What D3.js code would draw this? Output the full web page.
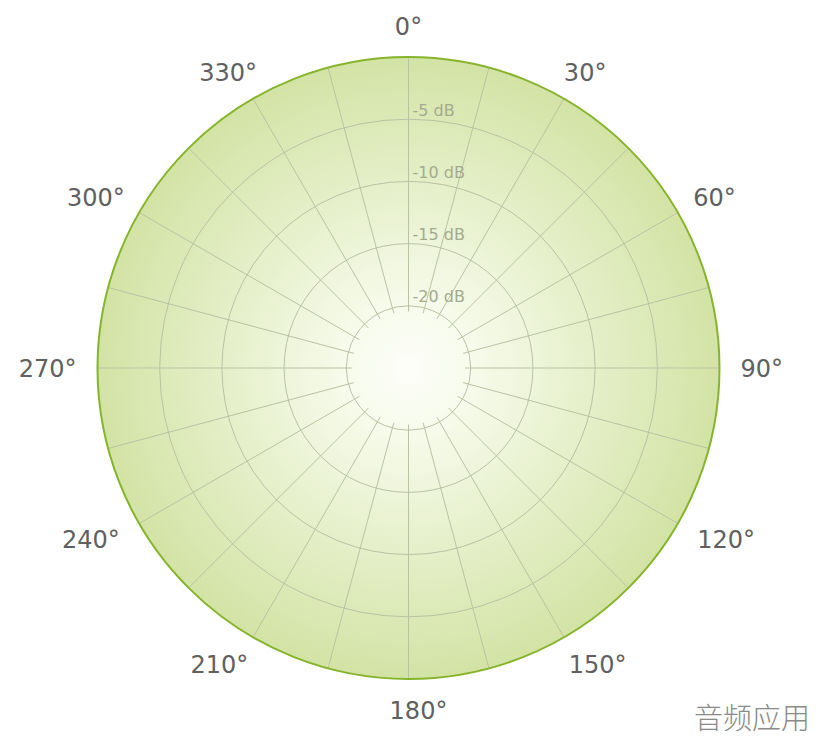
<!DOCTYPE html>
<html>
<head>
<meta charset="utf-8">
<script src="https://cdn.jsdelivr.net/npm/d3@7/dist/d3.min.js"></script>
<style>
  html, body { margin: 0; padding: 0; background: #ffffff; }
  svg { display: block; }
</style>
</head>
<body>
<svg id="chart" width="816" height="738"></svg>
<script>
// ---- data ----
const angleTicks = [0, 30, 60, 90, 120, 150, 180, 210, 240, 270, 300, 330];
const angleLabels = ["0°", "30°", "60°", "90°", "120°", "150°", "180°", "210°", "240°", "270°", "300°", "330°"];
const spokeAngles = [0, 15, 30, 45, 60, 75, 90, 105, 120, 135, 150, 165,
                     180, 195, 210, 225, 240, 255, 270, 285, 300, 315, 330, 345];
const ringValues = [-20, -15, -10, -5];
const ringLabels = ["-20 dB", "-15 dB", "-10 dB", "-5 dB"];
const dbMin = -25, dbMax = 0;
const watermark = "音频应用";

// ---- layout ----
const svg = d3.select("#chart");
const cx = 408.5, cy = 368, R = 311;
const rScale = d3.scaleLinear().domain([dbMin, dbMax]).range([0, R]);
const aScale = d3.scaleLinear().domain([0, 360]).range([0, 2 * Math.PI]);
const spokeStart = rScale(-20.45);

const g = svg.append("g").attr("transform", `translate(${cx},${cy})`);

const defs = svg.append("defs");
const grad = defs.append("radialGradient").attr("id", "bg")
  .attr("cx", "50%").attr("cy", "50%").attr("r", "50%");
grad.append("stop").attr("offset", "0%").attr("stop-color", "#fdfef9");
grad.append("stop").attr("offset", "20%").attr("stop-color", "#f7fbec");
grad.append("stop").attr("offset", "100%").attr("stop-color", "#d3e3a5");

// background disc
g.append("circle").attr("r", rScale(dbMax)).attr("fill", "url(#bg)");

// rings
g.selectAll("circle.ring").data(ringValues).join("circle")
  .attr("class", "ring")
  .attr("r", d => rScale(d))
  .attr("fill", "none")
  .attr("stroke", "#b9c3a4")
  .attr("stroke-width", 1);

// spokes
const pt = (ang, rad) => [rad * Math.sin(aScale(ang)), -rad * Math.cos(aScale(ang))];
g.selectAll("line.spoke").data(spokeAngles).join("line")
  .attr("class", "spoke")
  .attr("x1", d => pt(d, spokeStart)[0]).attr("y1", d => pt(d, spokeStart)[1])
  .attr("x2", d => pt(d, R)[0]).attr("y2", d => pt(d, R)[1])
  .attr("stroke", "#b9c3a4")
  .attr("stroke-width", 1);

// outer circle
g.append("circle").attr("r", rScale(dbMax))
  .attr("fill", "none").attr("stroke", "#86b42c").attr("stroke-width", 2);

// ring labels
g.selectAll("text.rl").data(ringValues).join("text")
  .attr("class", "rl")
  .attr("x", 4)
  .attr("y", d => -rScale(d) - 3.5)
  .attr("font-family", "DejaVu Sans, Verdana, sans-serif")
  .attr("font-size", 16)
  .attr("fill", "#a3ab8f")
  .text((d, i) => ringLabels[i]);

// angle labels
const fs = 24, capHalf = 0.729 * fs / 2, labR = 332, halfH = 10;
const labels = g.selectAll("text.al").data(angleTicks).join("text")
  .attr("class", "al")
  .attr("font-family", "DejaVu Sans, Verdana, sans-serif")
  .attr("font-size", fs)
  .attr("fill", "#606060")
  .attr("text-anchor", "middle")
  .text((d, i) => angleLabels[i]);
labels.each(function(d) {
  const w = this.getComputedTextLength();
  const th = aScale(d);
  const s = Math.sin(th), c = Math.cos(th);
  const [px, py] = pt(d, labR);
  let x = px + (w / 2) * s;
  let y = py - halfH * c;
  if (c < -0.1) {
    const sign = s >= -0.01 ? 1 : -1;
    x += sign * 10 * (-c);
  }
  d3.select(this).attr("x", x).attr("y", y + capHalf);
});

// watermark
svg.append("text")
  .attr("x", 810).attr("y", 729)
  .attr("text-anchor", "end")
  .attr("font-family", "Noto Sans CJK SC, sans-serif")
  .attr("font-weight", 300)
  .attr("font-size", 29)
  .attr("fill", "#8a8a8a")
  .text(watermark);
</script>
</body>
</html>
